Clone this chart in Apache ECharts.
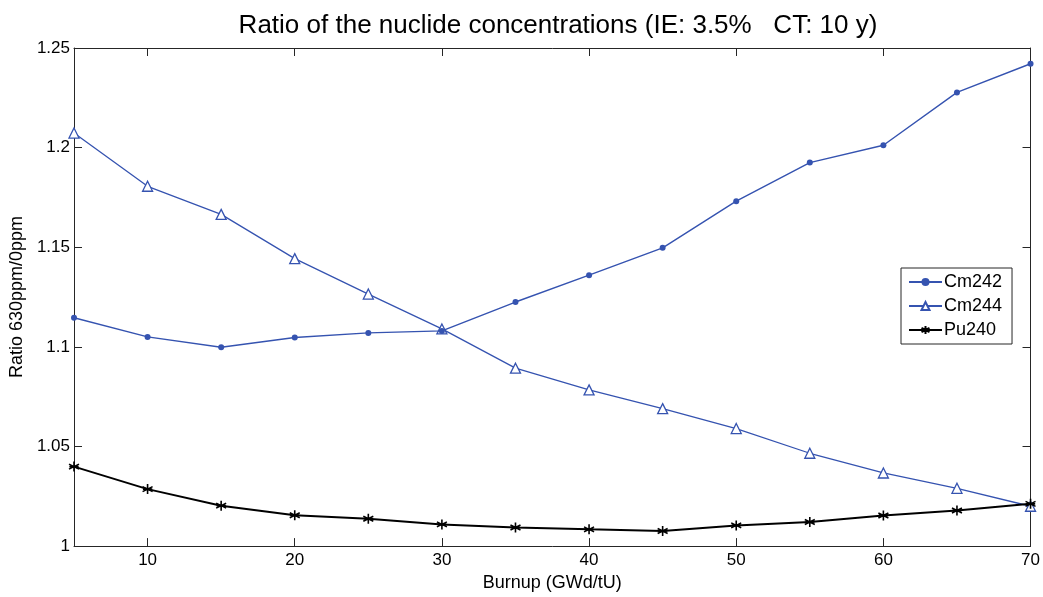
<!DOCTYPE html>
<html>
<head>
<meta charset="utf-8">
<script src="https://cdn.jsdelivr.net/npm/echarts@6/dist/echarts.min.js"></script>
<style>
  html, body { margin: 0; padding: 0; background: #fff; }
  #chart { width: 1043px; height: 597px; }
</style>
</head>
<body>
<div id="chart"></div>
<script>
// ---- data ----
const burnup = [5, 10, 15, 20, 25, 30, 35, 40, 45, 50, 55, 60, 65, 70];
const cm242 = [1.1146, 1.1050, 1.0998, 1.1047, 1.1070, 1.1080, 1.1225, 1.1360, 1.1497, 1.1731, 1.1925, 1.2012, 1.2277, 1.2421];
const cm244 = [1.2073, 1.1806, 1.1665, 1.1443, 1.1265, 1.1090, 1.0893, 1.0784, 1.0690, 1.0590, 1.0466, 1.0367, 1.0290, 1.0200];
const pu240 = [1.0399, 1.0286, 1.0203, 1.0155, 1.0137, 1.0109, 1.0093, 1.0084, 1.0076, 1.0104, 1.0121, 1.0154, 1.0179, 1.0212];
const xTicks = [10, 20, 30, 40, 50, 60, 70];
const yTicks = [1, 1.05, 1.1, 1.15, 1.2, 1.25];

const pair = (ys) => burnup.map((x, i) => [x, ys[i]]);

const BLUE = '#3553b0';
const FONT = '"Liberation Sans", Arial, sans-serif';
const STAR = 'path://M5,0 L5,10 M0.7,2.5 L9.3,7.5 M0.7,7.5 L9.3,2.5 M1,5 L9,5';

const chart = echarts.init(document.getElementById('chart'), null, { renderer: 'canvas' });

const axisLineStyle = { color: '#262626', width: 1 };

chart.setOption({
  animation: false,
  backgroundColor: '#ffffff',
  textStyle: { fontFamily: FONT },
  title: {
    text: 'Ratio of the nuclide concentrations (IE: 3.5%   CT: 10 y)',
    left: 553,
    textAlign: 'center',
    top: 8,
    textStyle: { fontFamily: FONT, fontSize: 26, fontWeight: 'normal', color: '#000' }
  },
  grid: { left: 74, right: 11, top: 48, bottom: 45, containLabel: false },
  legend: {
    left: 901, top: 268,
    orient: 'vertical',
    backgroundColor: '#ffffff',
    borderColor: '#262626',
    borderWidth: 1,
    borderRadius: 0,
    padding: [5, 10, 5, 7],
    itemGap: 6,
    itemWidth: 33,
    itemHeight: 10,
    textStyle: { fontFamily: FONT, fontSize: 18, color: '#000', padding: [0, 0, 0, -3] },
    data: ['Cm242', 'Cm244', 'Pu240']
  },
  xAxis: [
    {
      type: 'value', min: 5, max: 70,
      name: 'Burnup (GWd/tU)', nameLocation: 'middle', nameGap: 27,
      nameTextStyle: { fontFamily: FONT, fontSize: 18, color: '#000' },
      axisLine: { show: true, lineStyle: axisLineStyle },
      axisTick: { show: true, inside: true, length: 8, customValues: xTicks, lineStyle: { color: '#262626' } },
      axisLabel: { customValues: xTicks, fontFamily: FONT, fontSize: 17, color: '#000', margin: 6 },
      splitLine: { show: false }
    },
    {
      type: 'value', min: 5, max: 70, position: 'top',
      axisLine: { show: true, lineStyle: axisLineStyle },
      axisTick: { show: true, inside: true, length: 8, customValues: xTicks, lineStyle: { color: '#262626' } },
      axisLabel: { show: false },
      splitLine: { show: false }
    }
  ],
  yAxis: [
    {
      type: 'value', min: 1, max: 1.25, interval: 0.05,
      name: 'Ratio 630ppm/0ppm', nameLocation: 'middle', nameGap: 47,
      nameTextStyle: { fontFamily: FONT, fontSize: 18, color: '#000' },
      axisLine: { show: true, lineStyle: axisLineStyle },
      axisTick: { show: true, inside: true, length: 8, lineStyle: { color: '#262626' } },
      axisLabel: { fontFamily: FONT, fontSize: 17, color: '#000', margin: 4,
        formatter: (v) => String(+v.toFixed(2)) },
      splitLine: { show: false }
    },
    {
      type: 'value', min: 1, max: 1.25, interval: 0.05, position: 'right',
      axisLine: { show: true, lineStyle: axisLineStyle },
      axisTick: { show: true, inside: true, length: 8, lineStyle: { color: '#262626' } },
      axisLabel: { show: false },
      splitLine: { show: false }
    }
  ],
  series: [
    {
      name: 'Cm242', type: 'line', data: pair(cm242),
      symbol: 'circle', symbolSize: 6,
      itemStyle: { color: BLUE },
      lineStyle: { color: BLUE, width: 1.4 },
      z: 3
    },
    {
      name: 'Cm244', type: 'line', data: pair(cm244),
      symbol: 'triangle', symbolSize: 10,
      itemStyle: { color: '#ffffff', borderColor: BLUE, borderWidth: 1.3 },
      lineStyle: { color: BLUE, width: 1.3 },
      z: 2
    },
    {
      name: 'Pu240', type: 'line', data: pair(pu240),
      symbol: STAR, symbolSize: 10,
      itemStyle: { color: 'none', borderColor: '#000', borderWidth: 1.6 },
      lineStyle: { color: '#000', width: 2 },
      z: 4
    }
  ]
});
</script>
</body>
</html>
